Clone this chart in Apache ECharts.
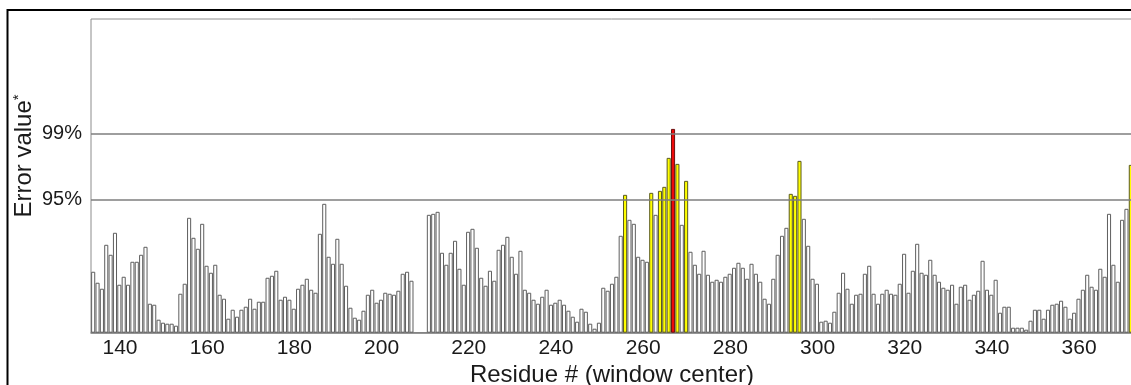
<!DOCTYPE html>
<html>
<head>
    <meta charset="utf-8">
    <title>Error value by residue</title>
    <script src="https://cdn.jsdelivr.net/npm/echarts@6/dist/echarts.min.js"></script>
    <style>
        body, html { margin: 0; padding: 0; width: 100%; height: 100%; overflow: hidden; background: #fff; }
        #main { width: 1131px; height: 385px; }
    </style>
</head>
<body>
    <div id="main"></div>

    <script type="text/javascript">
        // residue numbers (window center), 135..373
        var firstResidue = 135;
        var lastResidue = 373;

        // error values, one per residue from 135; null = no window
        var errorValues = [
            61, 50, 44, 88, 78, 100, 48, 56, 48, 71,        // 135-144
            71, 78, 86, 29, 28, 13, 10, 9, 9, 7,            // 145-154
            39, 49, 115, 95, 84, 109, 67, 60, 68, 38,       // 155-164
            34, 14, 23, 16, 23, 26, 34, 24, 31, 31,         // 165-174
            55, 57, 62, 33, 36, 33, 24, 44, 48, 54,         // 175-184
            43, 40, 99, 129, 76, 69, 94, 69, 47, 25,        // 185-194
            15, 13, 22, 38, 43, 30, 33, 40, 39, 38,         // 195-204
            42, 59, 61, 52, null, null, null, 118, 119, 121, // 205-214
            80, 68, 80, 92, 64, 48, 101, 104, 85, 55,       // 215-224
            47, 62, 52, 83, 88, 96, 76, 59, 82, 43,         // 225-234
            40, 33, 29, 36, 43, 28, 30, 33, 28, 22,         // 235-244
            16, 11, 24, 21, 9, 4, 10, 45, 42, 49,           // 245-254
            56, 97, 138, 113, 109, 76, 73, 71, 140, 118,    // 255-264
            142, 146, 175, 204, 169, 108, 152, 81, 68, 59,  // 265-274
            82, 58, 51, 53, 51, 56, 59, 65, 70, 65,         // 275-284
            54, 69, 59, 51, 34, 29, 54, 78, 97, 105,        // 285-294
            139, 137, 172, 114, 87, 54, 49, 11, 12, 10,     // 295-304
            21, 40, 60, 44, 29, 38, 39, 59, 67, 39,         // 305-314
            29, 39, 43, 39, 38, 49, 79, 40, 62, 89,         // 315-324
            60, 58, 73, 58, 51, 45, 43, 48, 29, 46,         // 325-334
            48, 33, 38, 42, 72, 43, 38, 53, 20, 26,         // 335-344
            26, 5, 5, 5, 3, 12, 23, 23, 14, 23,             // 345-354
            28, 29, 32, 26, 14, 20, 34, 43, 58, 46,         // 355-364
            43, 64, 56, 119, 68, 51, 113, 124, 168          // 365-373
        ];

        // windows above the 95% and 99% limits
        var yellowResidues = [257, 263, 265, 266, 267, 269, 271, 295, 296, 297, 373];
        var redResidues = [268];

        // confidence limits, same units as errorValues
        var limit95 = 133.4;
        var limit99 = 199.4;
        var yMax = 314;

        var residues = [];
        for (var r = firstResidue; r <= lastResidue; r++) residues.push(r);

        var barData = errorValues.map(function (v, i) {
            var res = residues[i];
            if (v === null) return '-';
            if (redResidues.indexOf(res) >= 0) {
                return { value: v, itemStyle: { color: '#ee0a0a', borderColor: '#6a1010' } };
            }
            if (yellowResidues.indexOf(res) >= 0) {
                return { value: v, itemStyle: { color: '#ffff00', borderColor: '#5a5a20' } };
            }
            return v;
        });

        var font = "'Liberation Sans', Arial, sans-serif";
        var myChart = echarts.init(document.getElementById('main'), null, { renderer: 'canvas' });

        myChart.setOption({
            animation: false,
            backgroundColor: '#fff',
            grid: {
                left: 91, top: 19, right: -2, bottom: 52.3,
                outerBoundsMode: 'none',
                containLabel: false,
                show: true, borderColor: '#8c8c8c', borderWidth: 1
            },
            xAxis: {
                type: 'category',
                data: residues,
                name: 'Residue # (window center)',
                nameLocation: 'middle',
                nameGap: 30,
                nameTextStyle: { fontSize: 24, color: '#1a1a1a', fontFamily: font },
                axisLine: { lineStyle: { color: '#7a7a7a', width: 1.5 } },
                axisTick: {
                    alignWithLabel: true,
                    length: 3,
                    interval: function (i, v) { return +v % 10 === 0; },
                    lineStyle: { color: '#7a7a7a' }
                },
                axisLabel: {
                    interval: function (i, v) { return +v % 20 === 0; },
                    fontSize: 21,
                    color: '#1a1a1a',
                    fontFamily: font,
                    margin: 5,
                    padding: [0, 0, 0, 10]
                }
            },
            yAxis: {
                type: 'value',
                min: 0,
                max: yMax,
                axisLine: { show: false },
                axisTick: { show: false },
                axisLabel: { show: false },
                splitLine: { show: false }
            },
            graphic: [
                {
                    type: 'rect',
                    shape: { x: 7.5, y: 10, width: 1300, height: 600 },
                    style: { fill: 'none', stroke: '#000', lineWidth: 2 },
                    silent: true
                },
                {
                    type: 'text',
                    x: 24, y: 156,
                    rotation: Math.PI / 2,
                    style: {
                        text: '{a|Error value}{s|*}',
                        align: 'center',
                        verticalAlign: 'middle',
                        rich: {
                            a: { fontSize: 24, fontFamily: font, fill: '#1a1a1a' },
                            s: { fontSize: 15, fontFamily: font, fill: '#1a1a1a', verticalAlign: 'top', padding: [0, 0, 10, 0] }
                        }
                    },
                    silent: true
                }
            ],
            series: [{
                type: 'bar',
                data: barData,
                barCategoryGap: '6%',
                itemStyle: { color: '#fff', borderColor: '#5e5e5e', borderWidth: 1 },
                emphasis: { disabled: true },
                markLine: {
                    silent: true,
                    symbol: 'none',
                    lineStyle: { color: '#7e7e7e', width: 1.5, type: 'solid' },
                    label: {
                        position: 'start',
                        distance: 9,
                        fontSize: 20,
                        color: '#1a1a1a',
                        fontFamily: font
                    },
                    data: [
                        { yAxis: limit95, label: { formatter: '95%' } },
                        { yAxis: limit99, label: { formatter: '99%' } }
                    ]
                }
            }]
        });
    </script>
</body>
</html>
